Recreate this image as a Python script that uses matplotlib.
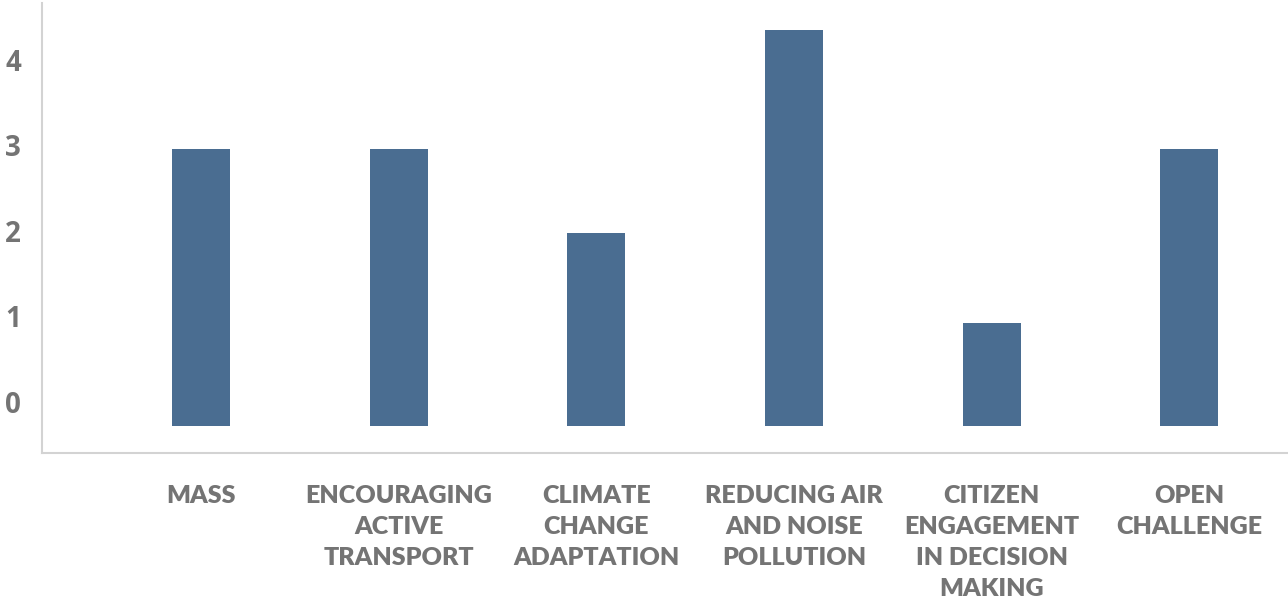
import matplotlib.pyplot as plt
import numpy as np

# categories and scores
categories = ['MASS', 'ENCOURAGING\nACTIVE\nTRANSPORT', 'CLIMATE\nCHANGE\nADAPTATION',
              'REDUCING AIR\nAND NOISE\nPOLLUTION', 'CITIZEN\nENGAGEMENT\nIN DECISION\nMAKING',
              'OPEN\nCHALLENGE']
scores = [2.95, 2.95, 1.97, 4.35, 0.92, 2.95]
y_ticks = [0, 1, 2, 3, 4]

baseline = -0.28
bar_color = '#4a6d91'
text_color = '#747474'

fig = plt.figure(figsize=(12.88, 5.99), dpi=100)
ax = fig.add_axes([42 / 1288, 146 / 599, 1 - 42 / 1288, 450 / 599])

x = np.arange(len(categories))
heights = [s - baseline for s in scores]
ax.bar(x, heights, bottom=baseline, width=0.293, color=bar_color)

ax.set_xlim(-0.805, 5.5)
ax.set_ylim(-0.595, 4.66)

ax.set_yticks(y_ticks)
ax.set_yticklabels([str(t) for t in y_ticks], fontsize=20, fontweight='bold',
                   color=text_color, fontname='Open Sans')
ax.tick_params(axis='y', length=0, pad=15)

ax.set_xticks(x)
ax.set_xticklabels(categories, fontsize=18, fontweight='heavy', color=text_color,
                   fontname='Lato', linespacing=1.5, va='top', ha='center')
ax.tick_params(axis='x', length=0, pad=23)

for side in ['top', 'right']:
    ax.spines[side].set_visible(False)
for side in ['left', 'bottom']:
    ax.spines[side].set_color('#d3d3d3')
    ax.spines[side].set_linewidth(1.5)

plt.savefig('out.png', dpi=100)
